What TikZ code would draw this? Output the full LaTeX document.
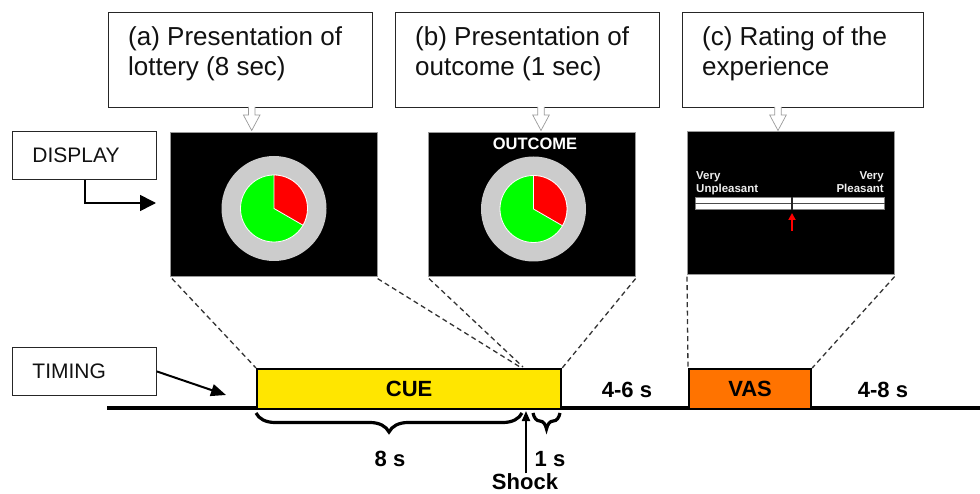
\documentclass[tikz,border=0pt]{standalone}
\usepackage{fontspec}
\setmainfont{Liberation Sans}
\usetikzlibrary{calc,arrows.meta,decorations.pathreplacing}
\definecolor{ringgray}{HTML}{CCCCCC}
\definecolor{piegreen}{HTML}{00FF00}
\definecolor{piered}{HTML}{FF0000}
\definecolor{cueyellow}{HTML}{FFE600}
\definecolor{vasorange}{HTML}{FF7300}
\definecolor{textdark}{HTML}{111111}
\definecolor{arrowgray}{HTML}{9A9A9A}
\definecolor{dashgray}{HTML}{333333}
\definecolor{scaletext}{HTML}{EEEEEE}
\tikzset{
  topbox/.style={draw=black!85, line width=0.9pt, fill=white, anchor=north west, inner sep=0pt, minimum height=95pt},
  toptext/.style={anchor=north west, inner sep=0pt, align=left, text=textdark, font=\fontsize{26}{30}\selectfont},
  labelbox/.style={draw=black!85, line width=0.9pt, anchor=north west, minimum height=48pt, text width=104pt, inner xsep=20pt, inner ysep=0pt, align=left, text=textdark, font=\fontsize{21}{24}\selectfont},
  screen/.style={draw=black!40, line width=0.6pt, fill=black, anchor=north west, inner sep=0pt, minimum width=207pt, minimum height=144pt},
  evbox/.style={draw=black, line width=2.2pt, anchor=north west, inner sep=0pt, minimum height=40pt, font=\bfseries\fontsize{22}{24}\selectfont},
  boldlabel/.style={anchor=base, inner sep=0pt, font=\bfseries\fontsize{22}{24}\selectfont},
  scaletxt/.style={inner sep=0pt, text=scaletext, font=\bfseries\fontsize{11.5}{13}\selectfont},
  dashline/.style={draw=dashgray, line width=1.3pt, dash pattern=on 5pt off 3.5pt},
  bracestyle/.style={draw=black, line width=3.2pt, decorate, decoration={brace, mirror, amplitude=#1}},
  hollow/.style={draw=arrowgray, fill=white, line width=0.7pt},
  hollowarrow/.pic={\draw[hollow] (-3.3,0) -- (-3.3,8) -- (-8.3,8) -- (0,23.5) -- (8.3,8) -- (3.3,8) -- (3.3,0);},
}
\begin{document}
\begin{tikzpicture}[x=1pt,y=-1pt]
\useasboundingbox (0,0) rectangle (980,494);

% top caption boxes
\node[topbox, minimum width=264pt] (boxa) at (108,12) {};
\node[topbox, minimum width=264pt] (boxb) at (395,12) {};
\node[topbox, minimum width=241pt] (boxc) at (682,12) {};
\node[toptext] (ta) at ($(boxa.north west)+(20,14)$) {(a) Presentation of\\lottery (8 sec)};
\node[toptext] (tb) at ($(boxb.north west)+(20,14)$) {(b) Presentation of\\outcome (1 sec)};
\node[toptext] (tc) at ($(boxc.north west)+(20,14)$) {(c) Rating of the\\experience};

% screens
\node[screen] (sa) at (170,132) {};
\node[screen] (sb) at (428,132) {};
\node[screen, minimum height=143pt] (sc) at (687,131) {};

% hollow arrows
\coordinate (ha) at (251.7,107);
\coordinate (hb) at (541,107);
\coordinate (hc) at (778,107);
\pic at (ha) {hollowarrow};
\pic at (hb) {hollowarrow};
\pic at (hc) {hollowarrow};

% pies
\coordinate (pa) at (274,208.5);
\coordinate (pb) at (533.5,209);
\foreach \c in {pa,pb}{
  \fill[ringgray] (\c) circle (52.5);
  \filldraw[fill=piegreen, draw=white, line width=0.8pt] (\c) circle (33.5);
  \filldraw[fill=piered, draw=white, line width=0.8pt] (\c) -- ++(-90:33.5) arc[start angle=-90, end angle=30, radius=33.5] -- cycle;
}
\node[anchor=base, inner sep=0pt, text=white, font=\bfseries\fontsize{16.5}{18}\selectfont] (outc) at (535,150) {OUTCOME};

% rating scale
\node[draw=black!50, line width=0.6pt, fill=white, anchor=north west, inner sep=0pt, minimum width=189pt, minimum height=12pt] (bar) at (695,197) {};
\draw[black!70, line width=1pt] (bar.west) -- (bar.east);
\coordinate (mark) at (792,197);
\draw[black!85, line width=1.4pt] (mark) -- (mark |- bar.south);
\node[scaletxt, anchor=north west, align=left] (vu) at (696,171.8) {Very\\Unpleasant};
\node[scaletxt, anchor=north east, align=right] (vp) at (884,171.8) {Very\\Pleasant};
\coordinate (ra0) at (792,231);
\coordinate (ra1) at (792,213);
\draw[piered, line width=1.8pt, -{Triangle[length=7pt,width=7pt]}] (ra0) -- (ra1);

% side labels
\node[labelbox] (disp) at (12,131) {DISPLAY};
\node[labelbox] (tim) at (12,347) {TIMING};
\coordinate (dispend) at (156,203);
\draw[line width=1.6pt, -{Triangle[length=16pt,width=16pt]}] ($(disp.south west)+(73,0)$) |- (dispend);
\coordinate (timend) at (226,395);
\draw[line width=2pt, -{Triangle[length=15pt,width=12pt]}] (tim.east) -- (timend);

% timeline
\coordinate (tl0) at (107,408);
\coordinate (tl1) at (980,408);
\draw[line width=4pt] (tl0) -- (tl1);
\node[evbox, fill=cueyellow, minimum width=304pt] (cue) at (256,368) {CUE};
\node[evbox, fill=vasorange, minimum width=122pt] (vas) at (688,368) {VAS};
\node[boldlabel] (d46) at (627,397.5) {4-6 s};
\node[boldlabel] (d48) at (883,397.5) {4-8 s};

% dashed projection lines
\coordinate (sha) at (520,367);
\coordinate (shb) at (523,367);
\draw[dashline] ($(sa.south west)+(2,2)$) -- (cue.north west);
\draw[dashline] ($(sa.south east)+(0,2)$) -- (sha);
\draw[dashline] ($(sb.south west)+(1,2)$) -- (shb);
\draw[dashline] ($(sb.south east)+(0,2)$) -- (cue.north east);
\draw[dashline] ($(sc.south west)+(0,2)$) -- (vas.north west);
\draw[dashline] ($(sc.south east)+(0,2)$) -- (vas.north east);

% braces and durations
\coordinate (b8a) at (256,413);
\coordinate (b8b) at (522,413);
\coordinate (b1a) at (533,413);
\coordinate (b1b) at (560,413);
\draw[bracestyle=19pt] (b8a) -- (b8b);
\draw[bracestyle=16pt] (b1a) -- (b1b);
\node[boldlabel] (d8) at (390,466) {8 s};
\node[boldlabel] (d1) at (550,466) {1 s};
\node[boldlabel] (shock) at (525,489.5) {Shock};
\coordinate (shocktip) at (526,411);
\draw[line width=2pt, -{Triangle[length=10pt,width=8pt]}] (shock.north -| shocktip) -- (shocktip);
\end{tikzpicture}
\end{document}
